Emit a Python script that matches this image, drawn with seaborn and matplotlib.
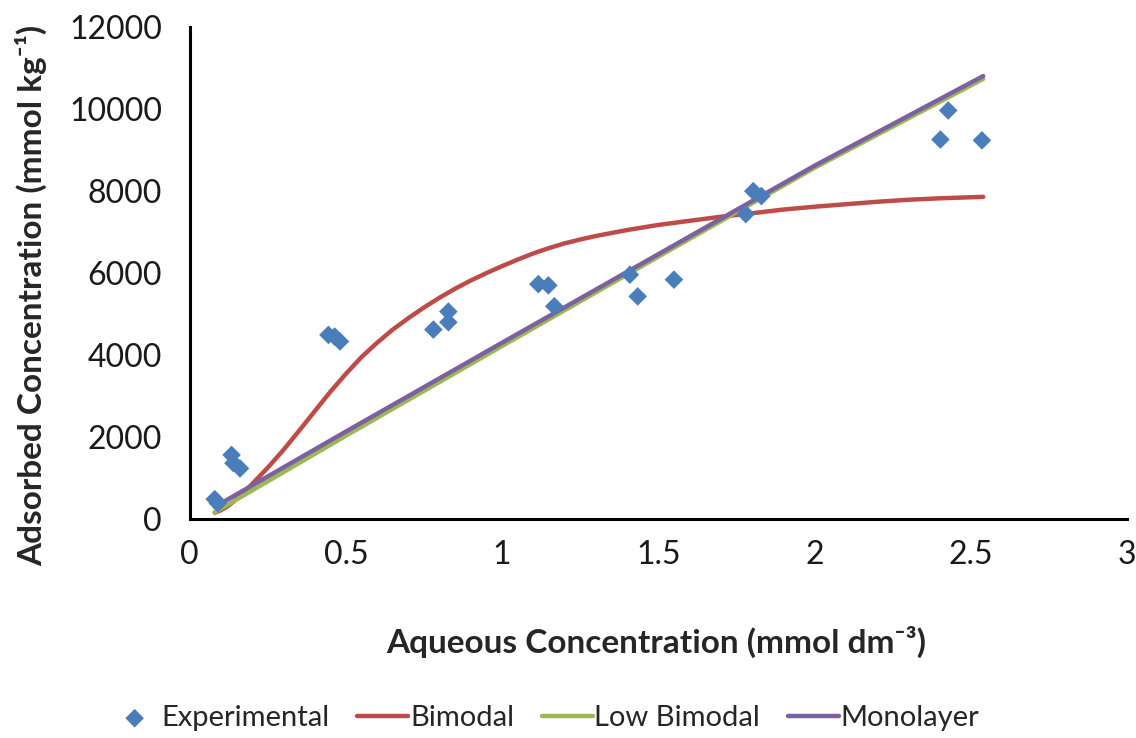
import matplotlib
matplotlib.use("Agg")
import matplotlib.pyplot as plt
import seaborn as sns

# Experimental data
exp_x = [0.08, 0.09, 0.134, 0.14, 0.161, 0.444, 0.464, 0.481, 0.78, 0.828, 0.828,
         1.116, 1.148, 1.167, 1.409, 1.434, 1.55, 1.78, 1.804, 1.83, 2.403, 2.428, 2.536]
exp_y = [480, 380, 1560, 1360, 1230, 4490, 4450, 4330, 4620, 4800, 5060,
         5730, 5700, 5190, 5960, 5430, 5840, 7440, 8000, 7880, 9260, 9970, 9240]

# Bimodal model curve
bim_x = [0.08, 0.1, 0.12, 0.14, 0.16, 0.18, 0.2, 0.25, 0.3, 0.35, 0.4, 0.45, 0.5,
         0.55, 0.6, 0.65, 0.7, 0.75, 0.8, 0.85, 0.9, 0.95, 1.0, 1.05, 1.1, 1.15,
         1.2, 1.25, 1.3, 1.4, 1.5, 1.6, 1.7, 1.8, 1.9, 2.0, 2.1, 2.2, 2.3, 2.4, 2.54]
bim_y = [150, 210, 300, 420, 560, 700, 850, 1250, 1680, 2150, 2625, 3100, 3540,
         3950, 4300, 4620, 4900, 5160, 5400, 5620, 5820, 6000, 6170, 6330, 6480, 6610,
         6725, 6820, 6905, 7050, 7175, 7276, 7375, 7460, 7550, 7620, 7680, 7740, 7790, 7825, 7861]

# Low Bimodal model curve
low_x = [0.08, 0.5, 1.0, 1.5, 2.0, 2.54]
low_y = [160, 2030, 4220, 6400, 8570, 10740]

# Monolayer model curve
mono_x = [0.08, 0.5, 1.0, 1.5, 2.0, 2.54]
mono_y = [290, 2130, 4300, 6460, 8620, 10810]

x_ticks = [0, 0.5, 1, 1.5, 2, 2.5, 3]
x_tick_labels = ["0", "0.5", "1", "1.5", "2", "2.5", "3"]
y_ticks = [0, 2000, 4000, 6000, 8000, 10000, 12000]

sns.set_theme(style="white")
plt.rcParams['font.family'] = ['Lato', 'DejaVu Sans']

fig = plt.figure(figsize=(11.36, 7.38), dpi=100)
ax = fig.add_axes([0.167, 0.297, 0.825, 0.666])

c_exp = "#4A7EBB"
c_bim = "#BE4B48"
c_low = "#98B954"
c_mono = "#7D60A0"

lw = 3.2
sns.lineplot(x=bim_x, y=bim_y, ax=ax, color=c_bim, linewidth=lw, label="Bimodal")
sns.lineplot(x=low_x, y=low_y, ax=ax, color=c_low, linewidth=lw, label="Low Bimodal")
sns.lineplot(x=mono_x, y=mono_y, ax=ax, color=c_mono, linewidth=lw, label="Monolayer")
sns.scatterplot(x=exp_x, y=exp_y, ax=ax, marker="D", s=90, color=c_exp,
                edgecolor="none", label="Experimental", zorder=5)

ax.set_xlim(0, 3)
ax.set_ylim(0, 12000)
ax.set_xticks(x_ticks)
ax.set_xticklabels(x_tick_labels)
ax.set_yticks(y_ticks)

for s in ["top", "right"]:
    ax.spines[s].set_visible(False)
for s in ["left", "bottom"]:
    ax.spines[s].set_color("black")
    ax.spines[s].set_linewidth(2.2)

ax.tick_params(axis="both", direction="out", length=7, width=2.2, color="black",
               labelsize=23, labelcolor="#1a1a1a")
ax.tick_params(axis="y", pad=13)
ax.tick_params(axis="x", pad=8)

ax.set_xlabel("Aqueous Concentration (mmol dm\u207b\u00b3)", fontsize=24, fontweight="bold")
ax.set_ylabel("Adsorbed Concentration (mmol kg\u207b\u00b9)", fontsize=24, fontweight="bold")
ax.xaxis.set_label_coords(0.498, -0.218)
ax.yaxis.set_label_coords(-0.152, 0.455)

handles, labels = ax.get_legend_handles_labels()
order = [labels.index(l) for l in ["Experimental", "Bimodal", "Low Bimodal", "Monolayer"]]
ax.legend([handles[i] for i in order], [labels[i] for i in order],
          loc="center", bbox_to_anchor=(0.378, -0.405), ncol=4, frameon=False,
          fontsize=21, handlelength=1.75, handletextpad=0.05, columnspacing=0.95)

fig.savefig("out.png", dpi=100)
